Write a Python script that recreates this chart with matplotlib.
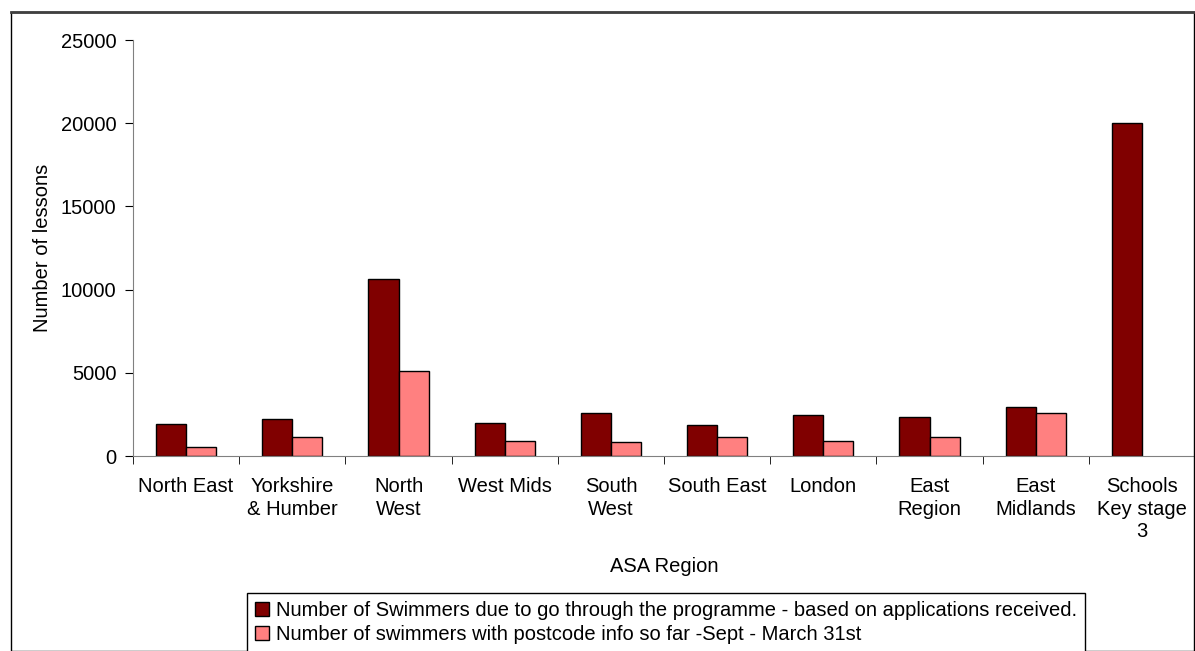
import matplotlib
matplotlib.use("Agg")
import matplotlib.pyplot as plt
from matplotlib.patches import Rectangle
import numpy as np

regions = ["North East", "Yorkshire\n& Humber", "North\nWest", "West Mids", "South\nWest",
           "South East", "London", "East\nRegion", "East\nMidlands", "Schools\nKey stage\n3"]
due = [1950, 2200, 10650, 2000, 2600, 1850, 2450, 2350, 2950, 20000]
postcode = [550, 1150, 5100, 900, 850, 1150, 900, 1150, 2600, 0]
series_names = ["Number of Swimmers due to go through the programme - based on applications received.",
                "Number of swimmers with postcode info so far -Sept - March 31st"]

plt.rcParams['font.family'] = ['Liberation Sans', 'DejaVu Sans']
fs = 14.5

W, H = 1195, 651
fig = plt.figure(figsize=(W / 100, H / 100), dpi=100)

# outer chart frame
fig.patches.append(Rectangle((11 / W, 0), (W - 12) / W, (H - 12) / H, transform=fig.transFigure,
                             fill=False, edgecolor="black", linewidth=1))
fig.lines.append(plt.Line2D([11 / W, 1], [(H - 12) / H] * 2, transform=fig.transFigure,
                            color="#404040", linewidth=2))

ax = fig.add_axes([133 / W, (H - 456) / H, (W - 133) / W, 416 / H])

x = np.arange(len(regions))
w = 0.283
ax.bar(x - w / 2, due, w, color="#800000", edgecolor="black", linewidth=1, label=series_names[0])
pc = np.array(postcode, dtype=float)
mask = pc > 0
ax.bar(x[mask] + w / 2, pc[mask], w, color="#FF8080", edgecolor="black", linewidth=1, label=series_names[1])

ax.set_xlim(-0.5, len(regions) - 0.5)
ax.set_ylim(0, 25000)
ax.set_yticks(range(0, 25001, 5000))
ax.set_xticks(x)
ax.set_xticklabels(regions, fontsize=fs, linespacing=1.25)
ax.set_xticks(np.arange(-0.5, len(regions), 1), minor=True)
ax.tick_params(axis="x", which="major", length=0, pad=15)
ax.tick_params(axis="x", which="minor", length=6, direction="out", color="black")
ax.tick_params(axis="y", length=6, direction="out", labelsize=fs, pad=6, color="black")

for s in ["top", "right"]:
    ax.spines[s].set_visible(False)
for s in ["left", "bottom"]:
    ax.spines[s].set_color("#808080")

ax.set_ylabel("Number of lessons", fontsize=fs, labelpad=6)
ax.set_xlabel("ASA Region", fontsize=fs, labelpad=11)

leg = fig.legend(loc="upper left", bbox_to_anchor=(247 / W, (H - 593) / H), fontsize=fs,
                 frameon=True, fancybox=False, edgecolor="black", framealpha=1,
                 handlelength=0.7, handleheight=0.7, handletextpad=0.35,
                 borderpad=0.4, labelspacing=0.25, borderaxespad=0)
leg.get_frame().set_linewidth(1)

fig.savefig("out.png", dpi=100)
